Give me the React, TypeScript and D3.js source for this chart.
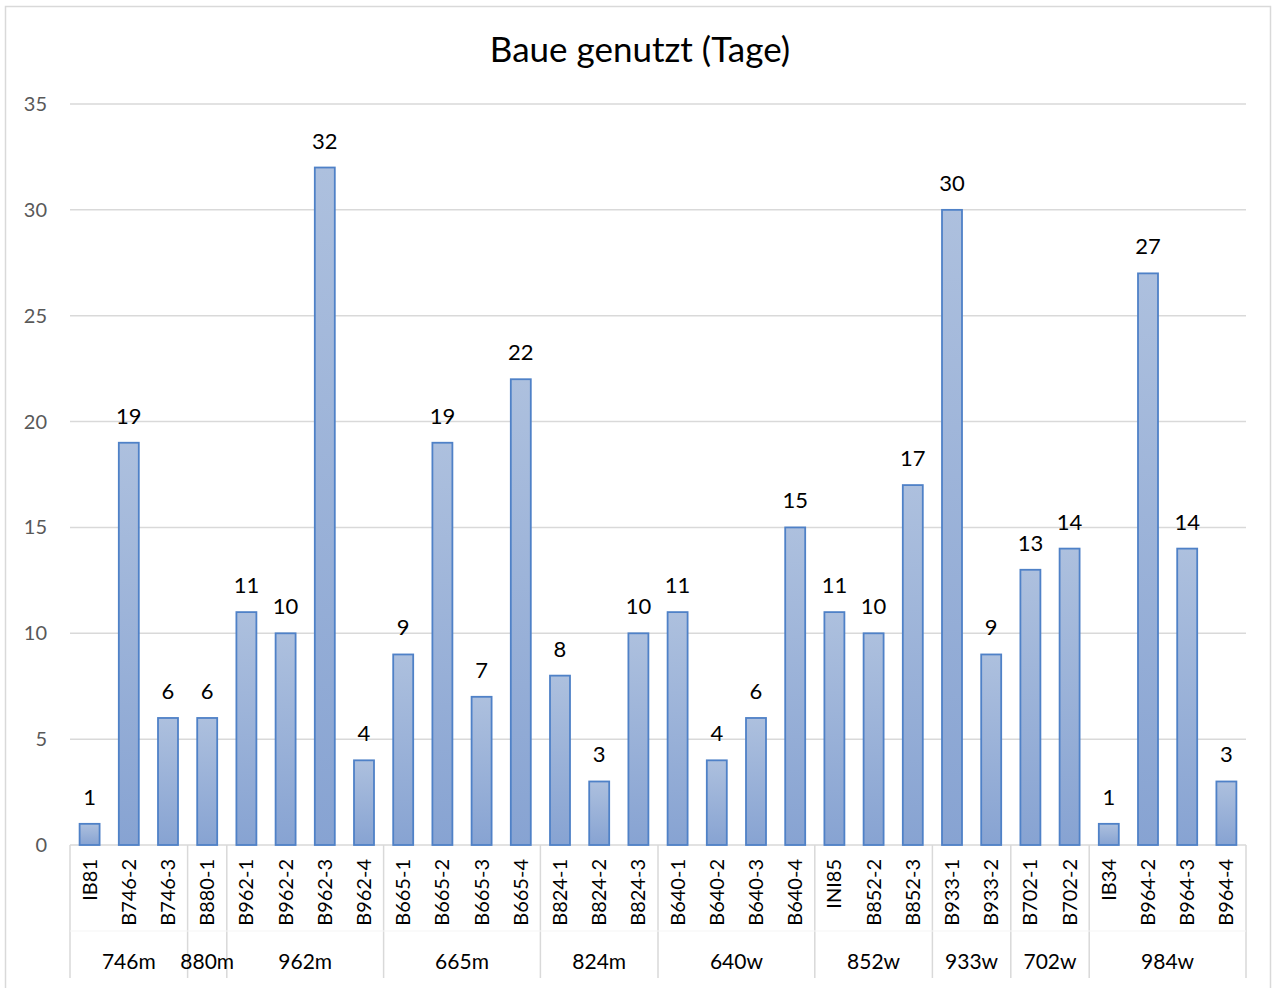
import React, { useEffect, useRef } from "react";
import * as d3 from "d3";

const categories = [
  "IB81", "B746-2", "B746-3", "B880-1", "B962-1", "B962-2", "B962-3", "B962-4",
  "B665-1", "B665-2", "B665-3", "B665-4", "B824-1", "B824-2", "B824-3",
  "B640-1", "B640-2", "B640-3", "B640-4", "INI85", "B852-2", "B852-3",
  "B933-1", "B933-2", "B702-1", "B702-2", "IB34", "B964-2", "B964-3", "B964-4",
];
const values = [1, 19, 6, 6, 11, 10, 32, 4, 9, 19, 7, 22, 8, 3, 10, 11, 4, 6, 15, 11, 10, 17, 30, 9, 13, 14, 1, 27, 14, 3];
const groupNames = ["746m", "880m", "962m", "665m", "824m", "640w", "852w", "933w", "702w", "984w"];
const groupSizes = [3, 1, 4, 4, 3, 4, 3, 2, 2, 4];
const yTicks = [0, 5, 10, 15, 20, 25, 30, 35];
const title = "Baue genutzt (Tage)";

export default function App() {
  const ref = useRef<HTMLDivElement>(null);

  useEffect(() => {
    const container = d3.select(ref.current);
    container.selectAll("*").remove();
    const width = 1275;
    const height = 988;
    const margin = { top: 104, right: 29, bottom: 143, left: 70 };
    const innerW = width - margin.left - margin.right;
    const innerH = height - margin.top - margin.bottom;
    const font = "Lato, 'Open Sans', sans-serif";

    const svg = container.append("svg").attr("width", width).attr("height", height)
      .style("display", "block").style("background", "#fff");

    const defs = svg.append("defs");
    const grad = defs.append("linearGradient").attr("id", "barGrad")
      .attr("x1", 0).attr("y1", 0).attr("x2", 0).attr("y2", 1);
    grad.append("stop").attr("offset", "0%").attr("stop-color", "#adc0de");
    grad.append("stop").attr("offset", "100%").attr("stop-color", "#87a3d2");

    // chart border
    svg.append("rect").attr("x", 5.5).attr("y", 6.5).attr("width", 1265).attr("height", 990)
      .attr("fill", "none").attr("stroke", "#d9d9d9").attr("stroke-width", 1.5);

    svg.append("text").attr("x", 640).attr("y", 62).attr("text-anchor", "middle")
      .attr("font-family", font).attr("font-size", 35).attr("fill", "#000").text(title);

    const g = svg.append("g").attr("transform", `translate(${margin.left},${margin.top})`);

    const x = d3.scaleBand().domain(categories).range([0, innerW]).paddingInner(0.49).paddingOuter(0.245);
    const xStep = innerW / categories.length;
    const y = d3.scaleLinear().domain([0, 35]).range([innerH, 0]);

    // gridlines
    g.selectAll("line.grid").data(yTicks).join("line").attr("class", "grid")
      .attr("x1", 0).attr("x2", innerW)
      .attr("y1", (d) => y(d)).attr("y2", (d) => y(d))
      .attr("stroke", "#d9d9d9").attr("stroke-width", 1.5);

    g.selectAll("text.ytick").data(yTicks).join("text").attr("class", "ytick")
      .attr("x", -23).attr("y", (d) => y(d)).attr("dy", "0.35em")
      .attr("text-anchor", "end").attr("font-family", font).attr("font-size", 20)
      .attr("fill", "#595959").text((d) => d);

    // group separators
    const bounds = [0];
    groupSizes.forEach((s) => bounds.push(bounds[bounds.length - 1] + s));
    g.selectAll("line.sep").data(bounds).join("line").attr("class", "sep")
      .attr("x1", (d) => d * xStep).attr("x2", (d) => d * xStep)
      .attr("y1", innerH).attr("y2", innerH + 133)
      .attr("stroke", "#d9d9d9").attr("stroke-width", 1.5);
    g.append("line").attr("x1", 0).attr("x2", innerW).attr("y1", innerH + 86).attr("y2", innerH + 86)
      .attr("stroke", "#f5f5f5").attr("stroke-width", 1);

    // bars
    g.selectAll("rect.bar").data(values).join("rect").attr("class", "bar")
      .attr("x", (d, i) => x(categories[i])!)
      .attr("y", (d) => y(d))
      .attr("width", x.bandwidth())
      .attr("height", (d) => innerH - y(d))
      .attr("fill", "url(#barGrad)")
      .attr("stroke", "#4f81c7").attr("stroke-width", 1.8);

    // data labels
    g.selectAll("text.val").data(values).join("text").attr("class", "val")
      .attr("x", (d, i) => x(categories[i])! + x.bandwidth() / 2)
      .attr("y", (d) => y(d) - 19)
      .attr("text-anchor", "middle").attr("font-family", font).attr("font-size", 22)
      .attr("fill", "#000").text((d) => d);

    // category labels
    g.selectAll("text.cat").data(categories).join("text").attr("class", "cat")
      .attr("transform", (d) => `translate(${x(d)! + x.bandwidth() / 2},${innerH + 14}) rotate(-90)`)
      .attr("dy", "0.35em").attr("text-anchor", "end")
      .attr("font-family", font).attr("font-size", 20).attr("fill", "#000").text((d) => d);

    // group labels
    g.selectAll("text.grp").data(groupNames).join("text").attr("class", "grp")
      .attr("x", (d, i) => ((bounds[i] + bounds[i + 1]) / 2) * xStep)
      .attr("y", innerH + 124).attr("text-anchor", "middle")
      .attr("font-family", font).attr("font-size", 21).attr("fill", "#000").text((d) => d);
  }, []);

  return <div ref={ref} style={{ position: "absolute", left: 0, top: 0 }}></div>;
}
